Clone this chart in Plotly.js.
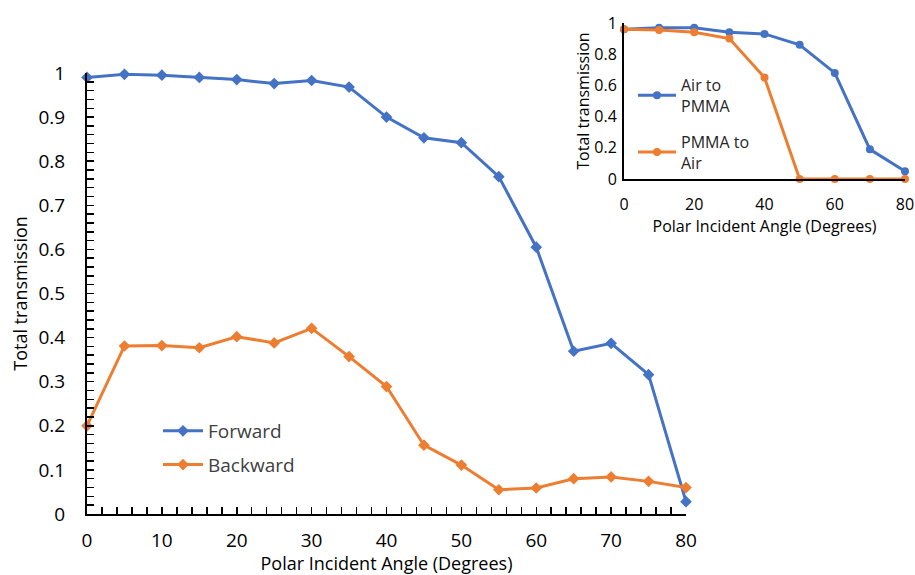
<!DOCTYPE html>
<html>
<head>
<meta charset="utf-8">
<script src="https://cdn.plot.ly/plotly-3.0.1.min.js"></script>
<style>html,body{margin:0;padding:0;background:#fff;}#chart{width:915px;height:575px;}</style>
</head>
<body>
<div id="chart"></div>
<script>
// Main chart data
const angles = [0,5,10,15,20,25,30,35,40,45,50,55,60,65,70,75,80];
const forward = [0.990,0.997,0.995,0.990,0.985,0.976,0.983,0.968,0.900,0.853,0.842,0.765,0.605,0.369,0.387,0.316,0.028];
const backward = [0.200,0.381,0.382,0.377,0.402,0.388,0.421,0.357,0.289,0.156,0.111,0.055,0.059,0.080,0.084,0.074,0.060];
// Inset data
const insetAngles = [0,10,20,30,40,50,60,70,80];
const airToPmma = [0.96,0.97,0.97,0.94,0.93,0.86,0.68,0.19,0.05];
const pmmaToAir = [0.96,0.955,0.94,0.90,0.65,0.00,0.00,0.00,0.00];
const mainXTicks = [0,10,20,30,40,50,60,70,80];
const mainYTicks = [0,0.1,0.2,0.3,0.4,0.5,0.6,0.7,0.8,0.9,1];
const insetXTicks = [0,20,40,60,80];
const insetYTicks = [0,0.2,0.4,0.6,0.8,1];

const BLUE = '#4472C4', ORANGE = '#ED7D31';
const FONT = 'Open Sans, Noto Sans, sans-serif';

const traces = [
  {x: angles, y: forward, name: 'Forward', type: 'scatter', mode: 'lines+markers',
   line: {color: BLUE, width: 3}, marker: {symbol: 'diamond', size: 9, color: BLUE},
   cliponaxis: false, legend: 'legend', legendgroup: 'a', xaxis: 'x', yaxis: 'y'},
  {x: angles, y: backward, name: 'Backward', type: 'scatter', mode: 'lines+markers',
   line: {color: ORANGE, width: 3}, marker: {symbol: 'diamond', size: 9, color: ORANGE},
   cliponaxis: false, legend: 'legend', legendgroup: 'b', xaxis: 'x', yaxis: 'y'},
  {x: insetAngles, y: airToPmma, name: 'Air to<br>PMMA', type: 'scatter', mode: 'lines+markers',
   line: {color: BLUE, width: 3}, marker: {symbol: 'circle', size: 8, color: BLUE},
   cliponaxis: false, legend: 'legend2', legendgroup: 'c', xaxis: 'x2', yaxis: 'y2'},
  {x: insetAngles, y: pmmaToAir, name: 'PMMA to<br>Air', type: 'scatter', mode: 'lines+markers',
   line: {color: ORANGE, width: 3}, marker: {symbol: 'circle', size: 8, color: ORANGE},
   cliponaxis: false, legend: 'legend2', legendgroup: 'd', xaxis: 'x2', yaxis: 'y2'}
];

const layout = {
  width: 915, height: 575,
  margin: {l: 0, r: 0, t: 0, b: 0},
  paper_bgcolor: '#ffffff', plot_bgcolor: 'rgba(0,0,0,0)',
  font: {family: FONT, color: '#000000'},
  xaxis: {
    domain: [87/915, 686/915], range: [0, 80], anchor: 'y',
    tickvals: mainXTicks, ticktext: mainXTicks.map(String),
    showgrid: false, zeroline: false, showline: true, linecolor: '#000', linewidth: 2,
    ticks: 'inside', ticklen: 7, tickwidth: 1.5, tickcolor: '#000',
    minor: {dtick: 2, tick0: 0, ticks: 'inside', ticklen: 7, tickwidth: 1.5, tickcolor: '#000', showgrid: false},
    tickfont: {size: 19, family: FONT, color: '#000'}, ticklabelstandoff: 8,
    automargin: false,
    title: {text: 'Polar Incident Angle (Degrees)', font: {size: 18, family: FONT, color: '#000'}, standoff: 2}
  },
  yaxis: {
    domain: [61/575, 502/575], range: [0, 1], anchor: 'x',
    tickvals: mainYTicks, ticktext: mainYTicks.map(String),
    showgrid: false, zeroline: false, showline: true, linecolor: '#000', linewidth: 2,
    ticks: 'inside', ticklen: 7, tickwidth: 1.5, tickcolor: '#000',
    minor: {dtick: 0.02, tick0: 0, ticks: 'inside', ticklen: 7, tickwidth: 1.5, tickcolor: '#000', showgrid: false},
    tickfont: {size: 19, family: FONT, color: '#000'}, ticklabelstandoff: 16,
    automargin: false,
    title: {text: 'Total transmission', font: {size: 18, family: FONT, color: '#000'}, standoff: 6}
  },
  xaxis2: {
    domain: [624/915, 905/915], range: [0, 80], anchor: 'y2',
    tickvals: insetXTicks, ticktext: insetXTicks.map(String),
    showgrid: false, zeroline: false, showline: true, linecolor: '#000', linewidth: 2,
    ticks: '', tickfont: {size: 16, family: FONT, color: '#000'}, ticklabelstandoff: 10,
    automargin: false,
    title: {text: 'Polar Incident Angle (Degrees)', font: {size: 16, family: FONT, color: '#000'}, standoff: 2}
  },
  yaxis2: {
    domain: [396/575, 552/575], range: [0, 1], anchor: 'x2',
    tickvals: insetYTicks, ticktext: insetYTicks.map(String),
    showgrid: false, zeroline: false, showline: true, linecolor: '#000', linewidth: 2,
    ticks: '', tickfont: {size: 16, family: FONT, color: '#000'}, ticklabelstandoff: 2,
    automargin: false,
    title: {text: 'Total transmission', font: {size: 16, family: FONT, color: '#000'}, standoff: 0}
  },
  showlegend: true,
  legend: {
    x: 158/915, y: (575-412)/575, xanchor: 'left', yanchor: 'top',
    bgcolor: 'rgba(0,0,0,0)', borderwidth: 0, tracegroupgap: 6,
    font: {size: 19, family: FONT, color: '#404040'}, itemwidth: 40
  },
  legend2: {
    x: 633/915, y: (575-68)/575, xanchor: 'left', yanchor: 'top',
    bgcolor: 'rgba(0,0,0,0)', borderwidth: 0, tracegroupgap: 12,
    font: {size: 16, family: FONT, color: '#262626'}, itemwidth: 38
  }
};

Plotly.newPlot('chart', traces, layout, {displayModeBar: false, staticPlot: true});
</script>
</body>
</html>
